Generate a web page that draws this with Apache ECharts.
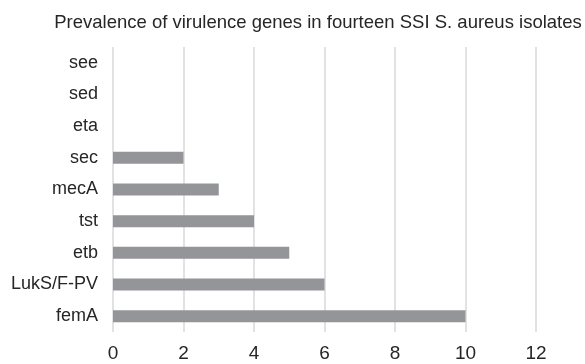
<!DOCTYPE html>
<html><head><meta charset="utf-8">
<script src="https://cdn.jsdelivr.net/npm/echarts@6/dist/echarts.min.js"></script>
<style>html,body{margin:0;padding:0;background:#fff}#c{width:585px;height:364px}</style>
</head><body><div id="c"></div>
<script>
const titleText = "Prevalence of virulence genes in fourteen SSI S. aureus isolates";
const categories = ["femA", "LukS/F-PV", "etb", "tst", "mecA", "sec", "eta", "sed", "see"];
const values = [10, 6, 5, 4, 3, 2, 0, 0, 0];
const chart = echarts.init(document.getElementById('c'), null, {renderer: 'canvas'});
chart.setOption({
  animation: false,
  title: {text: titleText, left: 313, textAlign: 'center', top: 8,
    textStyle: {fontFamily: 'Liberation Sans, Arial, sans-serif', fontSize: 18.5, fontWeight: 'normal', color: '#262626'}},
  grid: {left: 113, right: 49, top: 47, bottom: 32, containLabel: false},
  xAxis: {type: 'value', min: 0, max: 12, interval: 2,
    axisLine: {show: false}, axisTick: {show: false},
    splitLine: {lineStyle: {color: '#d9d9d9', width: 1.5}},
    axisLabel: {margin: 12, fontFamily: 'Liberation Sans, Arial, sans-serif', fontSize: 19, color: '#262626'}},
  yAxis: {type: 'category', data: categories,
    axisLine: {show: false}, axisTick: {show: false},
    axisLabel: {margin: 15, fontFamily: 'Liberation Sans, Arial, sans-serif', fontSize: 18, color: '#262626'}},
  series: [{type: 'bar', data: values, barWidth: 12, itemStyle: {color: '#939598'}}]
});
</script></body></html>
